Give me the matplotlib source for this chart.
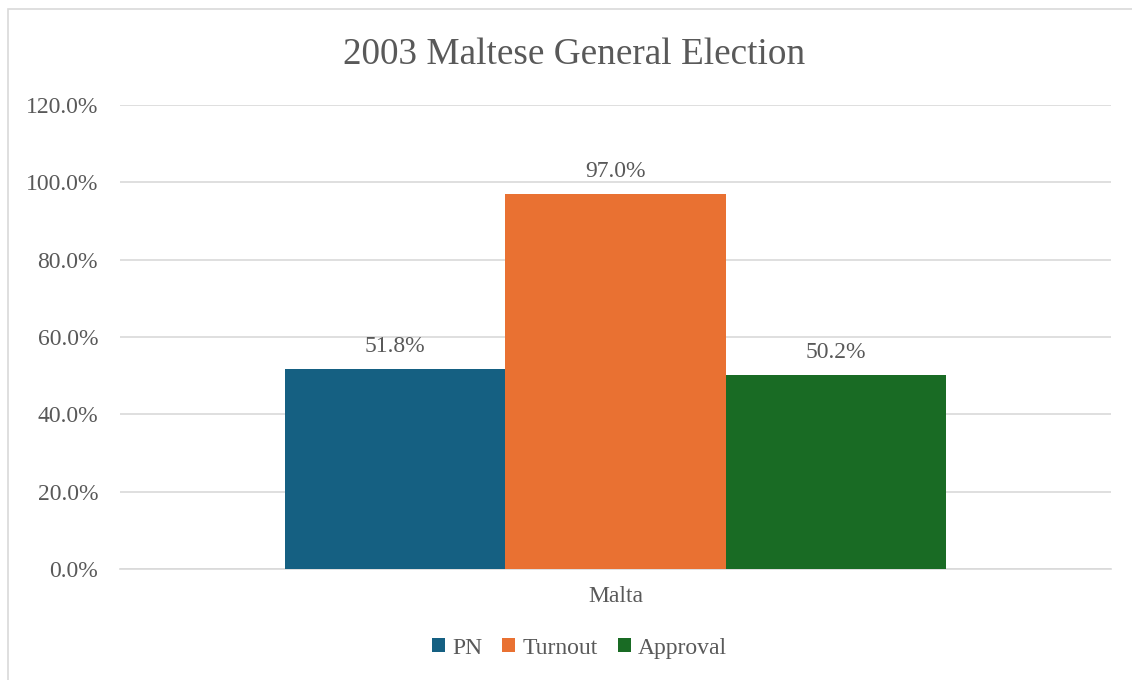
import matplotlib.pyplot as plt
import numpy as np

categories = ['Malta']
series = ['PN', 'Turnout', 'Approval']
values = [51.8, 97.0, 50.2]
colors = ['#156082', '#E97132', '#196B24']
yticks = [0, 20, 40, 60, 80, 100, 120]

txt = '#595959'
plt.rcParams['font.family'] = ['Liberation Serif', 'DejaVu Serif']

fig = plt.figure(figsize=(11.32, 6.8), dpi=100)
ax = fig.add_axes([0.106, 0.163, 0.8755, 0.683])

# border round the chart area
fig.patches.append(plt.Rectangle((8 / 1132, -0.01), 1.02, 1 - 9 / 680 + 0.01,
                                 transform=fig.transFigure, fill=False,
                                 edgecolor='#D9D9D9', linewidth=1.2))

width = 2 / 9
x = np.arange(len(categories))
for i, (name, v, c) in enumerate(zip(series, values, colors)):
    bars = ax.bar(x + (i - 1) * width, [v], width, color=c, label=name, zorder=3)
    for b in bars:
        ax.text(b.get_x() + b.get_width() / 2, b.get_height() + 3,
                f'{b.get_height():.1f}%', ha='center', va='bottom',
                fontsize=17, color=txt)

ax.set_xlim(-0.5, 0.5)
ax.set_ylim(0, 120)
ax.set_yticks(yticks)
ax.set_yticklabels([f'{t:.1f}%' for t in yticks])
ax.set_xticks(x)
ax.set_xticklabels(categories)
ax.yaxis.grid(True, color='#D9D9D9', linewidth=1.2, zorder=0)
ax.tick_params(axis='both', length=0, labelsize=17, labelcolor=txt)
ax.tick_params(axis='y', pad=15.8)
ax.tick_params(axis='x', pad=12)
for s in ['top', 'right', 'left']:
    ax.spines[s].set_visible(False)
ax.spines['bottom'].set_color('#D9D9D9')
ax.spines['bottom'].set_linewidth(1.2)

fig.suptitle('2003 Maltese General Election', x=0.507, y=0.919, va='center',
             fontsize=26.8, color=txt)

leg = fig.legend(loc='center', bbox_to_anchor=(0.512, 0.047), ncol=3, frameon=False,
                 fontsize=17, handlelength=0.55, handleheight=0.55,
                 columnspacing=0.85, handletextpad=0.3)
for t in leg.get_texts():
    t.set_color(txt)

fig.savefig('out.png', dpi=100)
